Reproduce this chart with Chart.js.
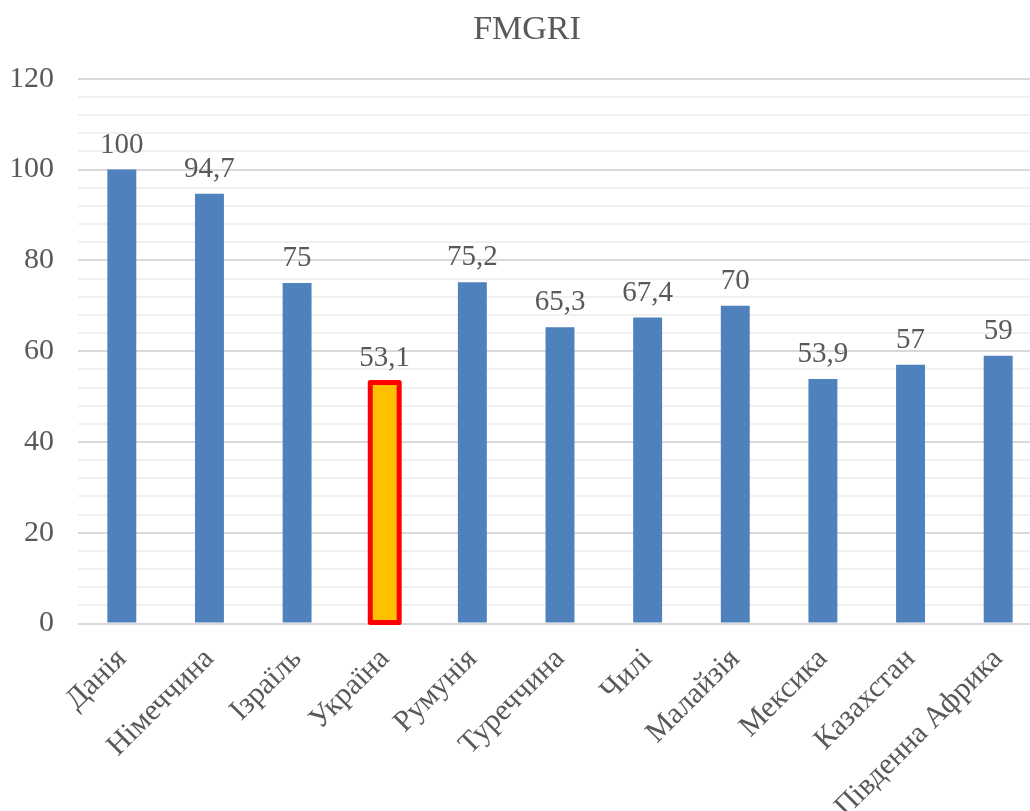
<!DOCTYPE html>
<html>
<head>
<meta charset="utf-8">
<script src="https://cdn.jsdelivr.net/npm/chart.js@4/dist/chart.umd.min.js"></script>
<style>
  html, body { margin: 0; padding: 0; background: #fff; overflow: hidden; }
  #wrap { width: 1062px; height: 843px; position: relative; }
</style>
</head>
<body>
<div id="wrap"><canvas id="chart"></canvas></div>
<script>
// FMGRI by country
var countries = ['Данія', 'Німеччина', 'Ізраїль', 'Україна', 'Румунія', 'Туреччина', 'Чилі', 'Малайзія', 'Мексика', 'Казахстан', 'Південна Африка'];
var fmgri = [100, 94.7, 75, 53.1, 75.2, 65.3, 67.4, 70, 53.9, 57, 59];
var highlight = 'Україна';

var blue = '#4F81BD';
var textColor = '#595959';
var serif = '"Liberation Serif", "Times New Roman", serif';

// value labels above bars (comma decimals) + red outline on the highlighted bar
var valueLabels = {
  id: 'valueLabels',
  afterDatasetsDraw: function(chart) {
    var ctx = chart.ctx;
    var meta = chart.getDatasetMeta(0);
    ctx.save();
    meta.data.forEach(function(bar, i) {
      if (countries[i] !== highlight) return;
      var p = bar.getProps(['x', 'y', 'base', 'width'], true);
      ctx.strokeStyle = '#FF0000';
      ctx.lineWidth = 5;
      ctx.lineJoin = 'round';
      ctx.strokeRect(p.x - p.width / 2, p.y, p.width, p.base - p.y);
    });
    ctx.font = '29px ' + serif;
    ctx.fillStyle = textColor;
    ctx.textAlign = 'center';
    ctx.textBaseline = 'alphabetic';
    meta.data.forEach(function(bar, i) {
      var txt = String(fmgri[i]).replace('.', ',');
      ctx.fillText(txt, bar.x, bar.y - 17);
    });
    ctx.restore();
  }
};

new Chart(document.getElementById('chart'), {
  type: 'bar',
  data: {
    labels: countries,
    datasets: [{
      label: 'FMGRI',
      data: fmgri,
      backgroundColor: countries.map(function(c) { return c === highlight ? '#FFC000' : blue; }),
      borderWidth: 0,
      categoryPercentage: 1,
      barPercentage: 0.33
    }]
  },
  options: {
    responsive: true,
    maintainAspectRatio: false,
    animation: false,
    layout: { autoPadding: false, padding: { left: 12, right: 20, top: 4, bottom: 0 } },
    plugins: {
      legend: { display: false },
      tooltip: { enabled: false },
      title: {
        display: true,
        text: 'FMGRI',
        color: textColor,
        font: { family: serif, size: 34, weight: 'normal' },
        padding: { top: 6, bottom: 28 }
      }
    },
    scales: {
      x: {
        grid: { display: false, drawTicks: false },
        border: { display: false },
        afterFit: function(scale) { scale.paddingLeft = 0; scale.paddingRight = 0; },
        ticks: {
          color: textColor,
          font: { family: serif, size: 30 },
          maxRotation: 45,
          minRotation: 45,
          autoSkip: false,
          padding: 18
        }
      },
      y: {
        min: 0,
        max: 120,
        afterFit: function(scale) { scale.width = 66; },
        grid: {
          drawTicks: false,
          color: function(ctx) { return ctx.tick && ctx.tick.value % 20 === 0 ? '#d9d9d9' : '#f0f0f0'; },
          lineWidth: 2
        },
        border: { display: false },
        ticks: {
          stepSize: 4,
          autoSkip: false,
          color: textColor,
          font: { family: serif, size: 30 },
          padding: 24,
          callback: function(v) { return v % 20 === 0 ? v : ''; }
        }
      }
    }
  },
  plugins: [valueLabels]
});
</script>
</body>
</html>
